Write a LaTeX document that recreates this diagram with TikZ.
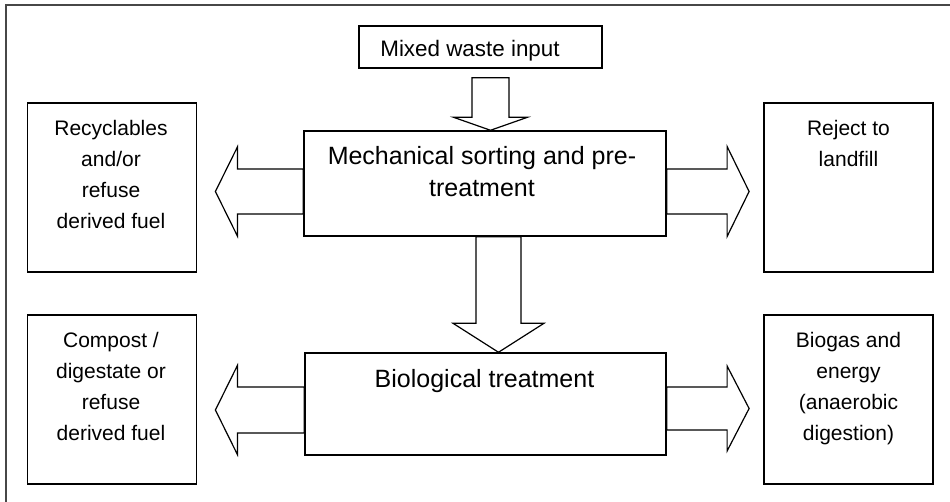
\documentclass[tikz,border=0pt]{standalone}
\usepackage{fontspec}
\setmainfont{Liberation Sans}
\usetikzlibrary{calc}
\tikzset{
  box/.style={draw=black, line width=1.1pt, rectangle, inner sep=0pt},
  sidebox/.style={box, minimum width=127pt, minimum height=127pt},
  lbl/.style={inner sep=0pt, align=center, font=\fontsize{15.75pt}{23.25pt}\selectfont},
  biglbl/.style={inner sep=0pt, align=center, font=\fontsize{18.75pt}{24pt}\selectfont},
  barrow/.style={draw=black, line width=0.9pt, fill=white, line join=miter},
  frame/.style={draw=black!72, line width=1.6pt}
}
% vertical block arrow pointing down: start S, tip T, half shaft, half head, head length
\newcommand\varrowshape[5]{%
  \draw[barrow] ($(#1)+(-#3,0)$) -- ($(#2)+(-#3,-#5)$) -- ($(#2)+(-#4,-#5)$) -- (#2)
    -- ($(#2)+(#4,-#5)$) -- ($(#2)+(#3,-#5)$) -- ($(#1)+(#3,0)$) -- cycle;}
% horizontal block arrow: start S, tip T, half shaft, half head, head length, direction (+1 right, -1 left)
\newcommand\harrowshape[6]{%
  \draw[barrow] ($(#1)+(0,-#3)$) -- ($(#2)+({-(#6)*(#5)},-#3)$) -- ($(#2)+({-(#6)*(#5)},-#4)$) -- (#2)
    -- ($(#2)+({-(#6)*(#5)},#4)$) -- ($(#2)+({-(#6)*(#5)},#3)$) -- ($(#1)+(0,#3)$) -- cycle;}
\begin{document}
\begin{tikzpicture}[x=0.75pt, y=-0.75pt]
\useasboundingbox (0,0) rectangle (950,501);
% outer frame (cut off at right and bottom)
\draw[frame] (6,510) -- (6,5) -- (960,5);

% boxes
\node[box, minimum width=182.25pt, minimum height=31.5pt] (mixed) at (480.5,47) {};
\node[box, minimum width=271.5pt, minimum height=78.75pt] (mech) at (485,183.5) {};
\node[box, minimum width=270.75pt, minimum height=76.5pt] (bio) at (485.5,404) {};
\node[sidebox] (rec) at (112,187.5) {};
\node[sidebox] (rej) at (848.5,187.5) {};
\node[sidebox] (comp) at (112,399.5) {};
\node[sidebox] (gas) at (848.5,399.5) {};

% texts
\node[lbl, anchor=base, font=\fontsize{16.8pt}{20pt}\selectfont] (mixedT) at (470,56) {Mixed waste input};
\node[biglbl, anchor=north] (mechT) at ($(mech.north)+(-3,16)$) {Mechanical sorting and pre-\\treatment};
\node[biglbl, anchor=base] (bioT) at (484.5,387) {Biological treatment};
\node[lbl, anchor=north] (recT) at ($(rec.north)+(-1,18)$) {Recyclables\\and/or\\refuse\\derived fuel};
\node[lbl, anchor=north] (rejT) at ($(rej.north)+(0,18)$) {Reject to\\landfill};
\node[lbl, anchor=north] (compT) at ($(comp.north)+(-1,18)$) {Compost /\\digestate or\\refuse\\derived fuel};
\node[lbl, anchor=north] (gasT) at ($(gas.north)+(0,18)$) {Biogas and\\energy\\(anaerobic\\digestion)};

% arrow anchor points
\coordinate (a1s) at ($(mixed.south)+(10,9)$);
\coordinate (a1t) at ($(mech.north)+(5.5,0)$);
\coordinate (a2s) at ($(mech.south)+(13.5,0)$);
\coordinate (a2t) at ($(bio.north)+(13,0)$);
\coordinate (a3s) at ($(mech.west)+(0,8)$);
\coordinate (a3t) at ($(rec.east)+(18,4)$);
\coordinate (a4s) at ($(mech.east)+(0,8)$);
\coordinate (a4t) at ($(rej.west)+(-14,4)$);
\coordinate (a5s) at ($(bio.west)+(0,6)$);
\coordinate (a5t) at ($(comp.east)+(18,10.5)$);
\coordinate (a6s) at ($(bio.east)+(0,4.5)$);
\coordinate (a6t) at ($(gas.west)+(-14,9)$);

% block arrows
\varrowshape{a1s}{a1t}{18.5}{37}{13}
\varrowshape{a2s}{a2t}{22.5}{45.5}{29}
\harrowshape{a3s}{a3t}{22.5}{44.5}{22}{-1}
\harrowshape{a4s}{a4t}{22.5}{45}{22}{1}
\harrowshape{a5s}{a5t}{23}{44.5}{22}{-1}
\harrowshape{a6s}{a6t}{21.5}{42.5}{22}{1}
\end{tikzpicture}
\end{document}
